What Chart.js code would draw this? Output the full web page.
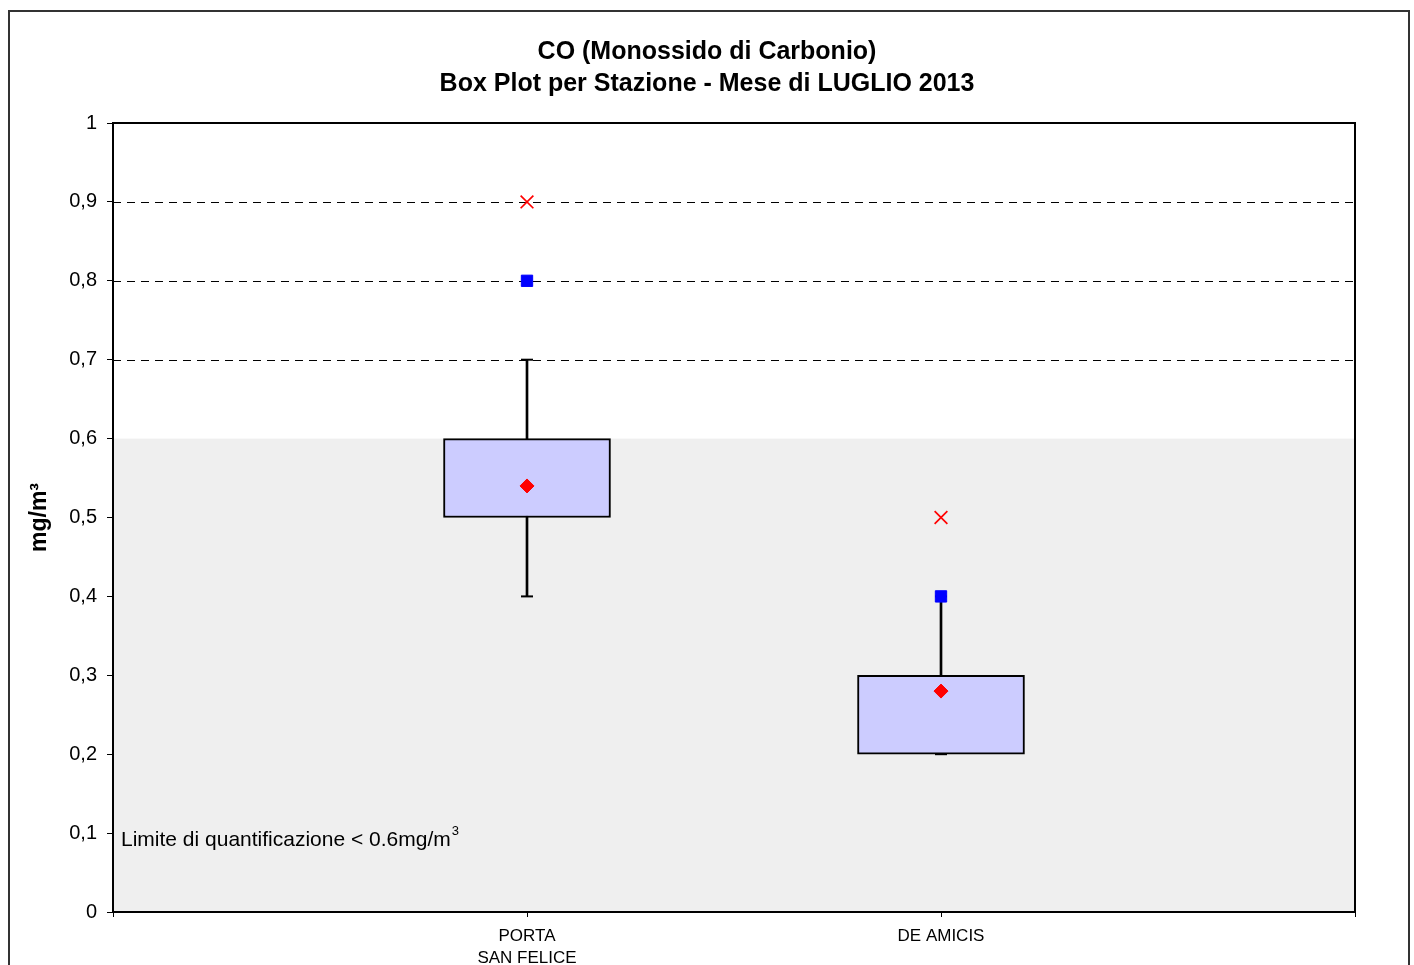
<!DOCTYPE html>
<html>
<head>
<meta charset="utf-8">
<title>CO Box Plot - Luglio 2013</title>
<script src="https://cdn.jsdelivr.net/npm/chart.js@4/dist/chart.umd.min.js"></script>
<style>
    html, body { margin: 0; padding: 0; background: #fff; overflow: hidden; }
    #frame { position: absolute; left: 8px; top: 10px; width: 1398px; height: 990px; border: 2px solid #333; pointer-events: none; }
    #wrap { position: absolute; left: 0; top: 0; width: 1414px; height: 965px; }
</style>
</head>
<body>
<div id="wrap"><canvas id="boxChart" width="1414" height="965"></canvas></div>
<div id="frame"></div>
<script>
// --- DATA ---
const STATIONS = [['PORTA', 'SAN FELICE'], 'DE AMICIS'];
const Q1 = [0.5, 0.2];
const Q3 = [0.6, 0.3];
const WHISKER_LOW = [0.4, 0.2];
const WHISKER_HIGH = [0.7, 0.4];
const MEAN = [0.54, 0.28];
const SQUARE_VALUES = [0.8, 0.4];
const CROSS_VALUES = [0.9, 0.5];
const Y_MIN = 0;
const Y_MAX = 1;
const Y_STEP = 0.1;
const LOQ = 0.6; // limite di quantificazione

const TITLE_LINES = ['CO (Monossido di Carbonio)', 'Box Plot per Stazione - Mese di LUGLIO 2013'];
const Y_TITLE = 'mg/m\u00B3';
const LOQ_TEXT = 'Limite di quantificazione < 0.6mg/m';

const FONT = "'Liberation Sans', Arial, Helvetica, sans-serif";

// stations sit at x = 1, 2 on a 0..3 axis
const atStation = arr => arr.map((y, i) => ({ x: i + 1, y }));
const rangeAtStation = (lo, hi) => lo.map((v, i) => ({ x: i + 1, y: [v, hi[i]] }));

// --- PLUGIN: gray area, dashed grid, plot frame, note ---
const plotDecor = {
    id: 'plotDecor',
    beforeDraw(chart) {
        const { ctx, chartArea: a, scales: { y } } = chart;
        ctx.save();
        ctx.fillStyle = '#efefef';
        const top = y.getPixelForValue(LOQ);
        ctx.fillRect(a.left, top, a.right - a.left, y.getPixelForValue(Y_MIN) - top);
        ctx.restore();
    },
    beforeDatasetsDraw(chart) {
        const { ctx, chartArea: a, scales: { y } } = chart;
        ctx.save();
        // dashed lines above the gray band
        ctx.strokeStyle = '#000';
        ctx.lineWidth = 1;
        ctx.setLineDash([8, 6]);
        y.ticks.forEach(t => {
            if (t.value > LOQ + 1e-9 && t.value < Y_MAX - 1e-9) {
                const py = Math.round(y.getPixelForValue(t.value)) + 0.5;
                ctx.beginPath();
                ctx.moveTo(a.left, py);
                ctx.lineTo(a.right, py);
                ctx.stroke();
            }
        });
        ctx.setLineDash([]);
        // plot frame
        ctx.lineWidth = 2;
        ctx.strokeRect(a.left, a.top, a.right - a.left, a.bottom - a.top);
        // note about quantification limit
        ctx.fillStyle = '#000';
        ctx.textBaseline = 'alphabetic';
        ctx.font = '21px ' + FONT;
        const tx = a.left + 8;
        const ty = y.getPixelForValue(0.1) + 13;
        ctx.fillText(LOQ_TEXT, tx, ty);
        const w = ctx.measureText(LOQ_TEXT).width;
        ctx.font = '13px ' + FONT;
        ctx.fillText('3', tx + w + 1, ty - 11);
        ctx.restore();
    }
};

// --- CHART ---
const ctx = document.getElementById('boxChart');
new Chart(ctx, {
    type: 'bar',
    data: {
        datasets: [
            {
                type: 'line', label: 'Media', data: atStation(MEAN), showLine: false, order: 0,
                pointStyle: 'rectRot', pointRadius: 7, pointBackgroundColor: '#ff0000', pointBorderColor: '#ff0000', pointBorderWidth: 1
            },
            {
                type: 'line', label: 'Square', data: atStation(SQUARE_VALUES), showLine: false, order: 0,
                pointStyle: 'rect', pointRadius: 8, pointBackgroundColor: '#0000ff', pointBorderColor: '#0000ff', pointBorderWidth: 1
            },
            {
                type: 'line', label: 'Cross', data: atStation(CROSS_VALUES), showLine: false, order: 0,
                pointStyle: 'crossRot', pointRadius: 9, pointBorderColor: '#ff0000', pointBorderWidth: 1.7
            },
            {
                type: 'line', label: 'Min', data: atStation(WHISKER_LOW), showLine: false, order: 3,
                pointStyle: 'line', pointRadius: 6, pointBorderColor: '#000', pointBorderWidth: 2
            },
            {
                type: 'line', label: 'Max', data: atStation(WHISKER_HIGH), showLine: false, order: 3,
                pointStyle: 'line', pointRadius: 6, pointBorderColor: '#000', pointBorderWidth: 2
            },
            {
                label: 'Box', data: rangeAtStation(Q1, Q3), order: 1, grouped: false,
                backgroundColor: '#ccccff', borderColor: '#000', borderWidth: 2, borderSkipped: false,
                barThickness: 167
            },
            {
                label: 'Whisker', data: rangeAtStation(WHISKER_LOW, WHISKER_HIGH), order: 2, grouped: false,
                backgroundColor: '#000', borderWidth: 0, barThickness: 2
            }
        ]
    },
    options: {
        responsive: false,
        animation: false,
        layout: { padding: 0 },
        plugins: {
            legend: { display: false },
            tooltip: { enabled: false },
            title: {
                display: true, text: TITLE_LINES, color: '#000',
                font: { family: FONT, size: 25, weight: 'bold', lineHeight: 1.28 },
                padding: { top: 36, bottom: 23 }
            }
        },
        scales: {
            x: {
                type: 'linear', min: 0, max: STATIONS.length + 1, offset: false,
                afterBuildTicks: s => { s.ticks = Array.from({ length: STATIONS.length + 2 }, (_, i) => ({ value: i })); },
                grid: { display: true, drawOnChartArea: false, offset: false, tickLength: 5, tickColor: '#000', tickWidth: 1 },
                border: { display: true, color: '#000', width: 2 },
                ticks: {
                    color: '#000', font: { family: FONT, size: 17, lineHeight: 1.25 }, padding: 9, maxRotation: 0, autoSkip: false,
                    callback: v => STATIONS[v - 1] || ''
                },
                afterFit: s => { s.height = 53; }
            },
            y: {
                min: Y_MIN, max: Y_MAX,
                grid: { display: true, drawOnChartArea: false, tickLength: 6, tickColor: '#000', tickWidth: 1 },
                border: { display: true, color: '#000', width: 2 },
                ticks: {
                    stepSize: Y_STEP, color: '#000', padding: 10,
                    font: { family: FONT, size: 20 },
                    callback: v => {
                        const r = Math.round(v * 10) / 10;
                        return (r === 0 || r === 1) ? String(r) : r.toFixed(1).replace('.', ',');
                    }
                },
                title: {
                    display: true, text: Y_TITLE, color: '#000',
                    font: { family: FONT, size: 23, weight: 'bold' },
                    padding: { top: 26, bottom: 0 }
                },
                afterFit: s => { s.width = 113; }
            },
            // empty right-hand axis: keeps white space on the right so the title stays centred on the page
            yRight: {
                position: 'right', min: Y_MIN, max: Y_MAX,
                grid: { display: false }, border: { display: false }, ticks: { display: false },
                afterFit: s => { s.width = 59; }
            }
        }
    },
    plugins: [plotDecor]
});
</script>
</body>
</html>
